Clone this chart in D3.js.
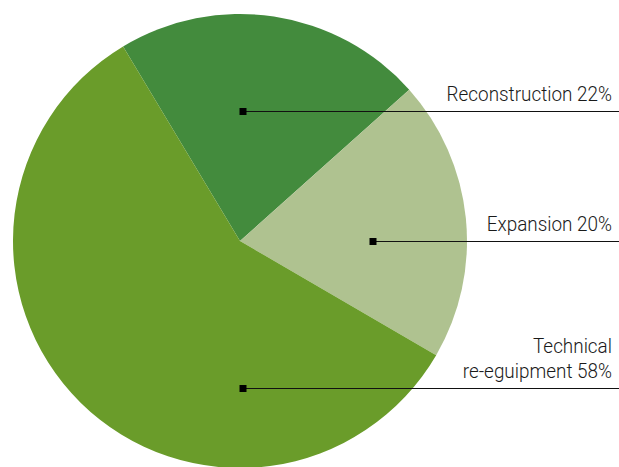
<!DOCTYPE html>
<html>
<head>
<meta charset="utf-8">
<script src="https://cdn.jsdelivr.net/npm/d3@7"></script>
<style>
  body { margin: 0; background: #fff; }
  text { font-family: "Roboto", "Liberation Sans", sans-serif; font-weight: 300; }
</style>
</head>
<body>
<div id="chart"></div>
<script>
var categories = ['Reconstruction', 'Expansion', 'Technical re-eguipment'];
var values = [22, 20, 58];
var labelLines = [['Reconstruction 22%'], ['Expansion 20%'], ['Technical', 're-eguipment 58%']];
var colors = ['#438b3d', '#afc290', '#6a9c2a'];

var width = 619;
var height = 467;
var cx = 240, cy = 241, radius = 227;

var svg = d3.select('#chart')
  .append('svg')
  .attr('width', width)
  .attr('height', height);

var g = svg.append('g')
  .attr('transform', 'translate(' + cx + ',' + cy + ')');

var startAngle = -31 * Math.PI / 180;

var pie = d3.pie()
  .sort(null)
  .startAngle(startAngle)
  .endAngle(startAngle + 2 * Math.PI)
  .value(function(d) { return d; });

var arc = d3.arc()
  .innerRadius(0)
  .outerRadius(radius);

var arcs = pie(values);

g.selectAll('.slice')
  .data(arcs)
  .enter()
  .append('path')
  .attr('class', 'slice')
  .attr('fill', function(d, i) { return colors[i]; })
  .attr('d', arc);

// marker offsets from the centre, one per slice
var markerPts = [
  [3, -130],
  [133, 0],
  [3, 147]
];

var label = svg.selectAll('.label')
  .data(categories)
  .enter()
  .append('g')
  .attr('class', 'label');

label.append('line')
  .attr('x1', function(d, i) { return cx + markerPts[i][0]; })
  .attr('x2', width)
  .attr('y1', function(d, i) { return cy + markerPts[i][1] + 0.5; })
  .attr('y2', function(d, i) { return cy + markerPts[i][1] + 0.5; })
  .attr('stroke', '#111')
  .attr('stroke-width', 1);

label.append('rect')
  .attr('x', function(d, i) { return cx + markerPts[i][0] - 3.5; })
  .attr('y', function(d, i) { return cy + markerPts[i][1] - 3; })
  .attr('width', 7)
  .attr('height', 7)
  .attr('fill', '#000');

// condensed look: squeeze text horizontally around the right edge
var squeeze = 0.9;
var textRight = 612;

label.each(function(d, i) {
  var lines = labelLines[i];
  var baseY = cy + markerPts[i][1] - 10;
  var txt = d3.select(this).append('g')
    .attr('transform', 'translate(' + textRight + ',0) scale(' + squeeze + ',1)')
    .append('text')
    .attr('text-anchor', 'end')
    .attr('font-size', '21px')
    .attr('fill', '#1a1a1a');
  txt.selectAll('tspan')
    .data(lines)
    .enter()
    .append('tspan')
    .attr('x', 0)
    .attr('y', function(t, j) { return baseY - (lines.length - 1 - j) * 25; })
    .text(function(t) { return t; });
});
</script>
</body>
</html>
